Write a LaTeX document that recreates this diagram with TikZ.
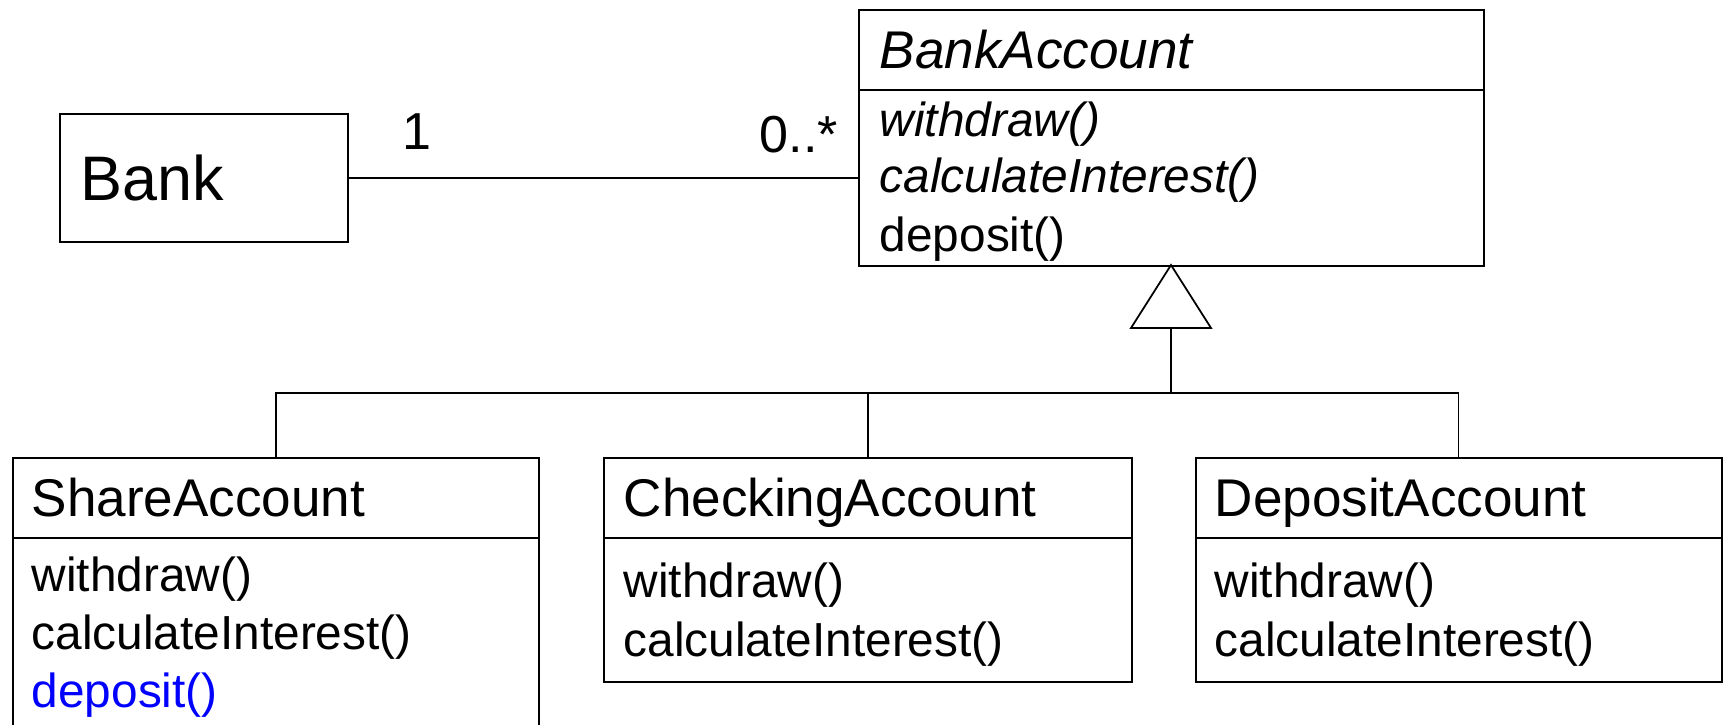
\documentclass[tikz,border=0pt]{standalone}
\usepackage{fontspec}
\setmainfont{Liberation Sans}
\usetikzlibrary{positioning,calc}
\definecolor{ovrblue}{RGB}{0,0,255}
\tikzset{
  cbox/.style={draw, line width=0.6pt, inner sep=0pt, anchor=north west},
  cname/.style={anchor=base west, inner sep=0pt, font=\fontsize{15.1}{17}\selectfont},
  meth/.style={anchor=base west, inner sep=0pt, font=\fontsize{13.6}{16}\selectfont},
  mult/.style={anchor=base west, inner sep=0pt, font=\fontsize{14.8}{17}\selectfont},
  assoc/.style={line width=0.5pt},
  inh/.style={line width=0.5pt, line join=miter},
}

\begin{document}
\begin{tikzpicture}
\useasboundingbox (0,0) rectangle (17.23,-7.25);
\clip (0,0) rectangle (17.23,-7.25);
% Bank and the abstract class
\node[cbox, minimum width=2.885cm, minimum height=1.28cm] (bank) at (0.585,-1.13) {};
\node[anchor=base west, inner sep=0pt, font=\fontsize{17.9}{20}\selectfont] (banktxt) at (0.80,-2.01) {Bank};
\node[cbox, minimum width=6.25cm, minimum height=0.80cm] (ba) at (8.58,-0.09) {};
\node[cbox, minimum width=6.25cm, minimum height=1.76cm] (bam) at (8.58,-0.89) {};
\node[cname, font=\fontsize{15.1}{17}\selectfont\itshape] (batxt) at (8.79,-0.69) {BankAccount};
\node[meth, font=\fontsize{13.6}{16}\selectfont\itshape] (bam1) at (8.79,-1.37) {withdraw()};
\node[meth, font=\fontsize{13.6}{16}\selectfont\itshape] (bam2) at (8.79,-1.93) {calculateInterest()};
\node[meth] (bam3) at (8.79,-2.52) {deposit()};
% association
\draw[assoc] (bank.east) -- (bank.east -| bam.west);
\node[mult] (m1) at (4.02,-1.50) {1};
\node[mult] (m2) at (7.59,-1.53) {0..*};
% subclasses
\node[cbox, minimum width=5.26cm, minimum height=0.80cm] (sa) at (0.12,-4.57) {};
\node[cbox, minimum width=5.26cm, minimum height=2.10cm] (sam) at (0.12,-5.37) {};
\node[cname] (satxt) at (0.31,-5.17) {ShareAccount};
\node[meth] (sam1) at (0.31,-5.92) {withdraw()};
\node[meth] (sam2) at (0.31,-6.50) {calculateInterest()};
\node[meth, text=ovrblue] (sam3) at (0.31,-7.08) {deposit()};
\node[cbox, minimum width=5.28cm, minimum height=0.80cm] (ca) at (6.03,-4.57) {};
\node[cbox, minimum width=5.28cm, minimum height=1.44cm] (cam) at (6.03,-5.37) {};
\node[cname] (catxt) at (6.23,-5.17) {CheckingAccount};
\node[meth] (cam1) at (6.23,-5.98) {withdraw()};
\node[meth] (cam2) at (6.23,-6.56) {calculateInterest()};
\node[cbox, minimum width=5.26cm, minimum height=0.80cm] (da) at (11.945,-4.57) {};
\node[cbox, minimum width=5.26cm, minimum height=1.44cm] (dam) at (11.945,-5.37) {};
\node[cname] (datxt) at (12.14,-5.17) {DepositAccount};
\node[meth] (dam1) at (12.14,-5.98) {withdraw()};
\node[meth] (dam2) at (12.14,-6.56) {calculateInterest()};
% generalization
\coordinate (tip) at (11.71,-2.65);
\coordinate (tribase) at (11.71,-3.28);
\coordinate (bus) at (11.71,-3.93);
\draw[inh] (tip) -- ++(-0.40,-0.63) -- ++(0.80,0) -- cycle;
\draw[inh] (tribase) -- (bus);
\draw[inh] (sa.north) -- (sa.north |- bus) -- (da.north |- bus) -- (da.north);
\draw[inh] (ca.north) -- (ca.north |- bus);
\end{tikzpicture}
\end{document}
